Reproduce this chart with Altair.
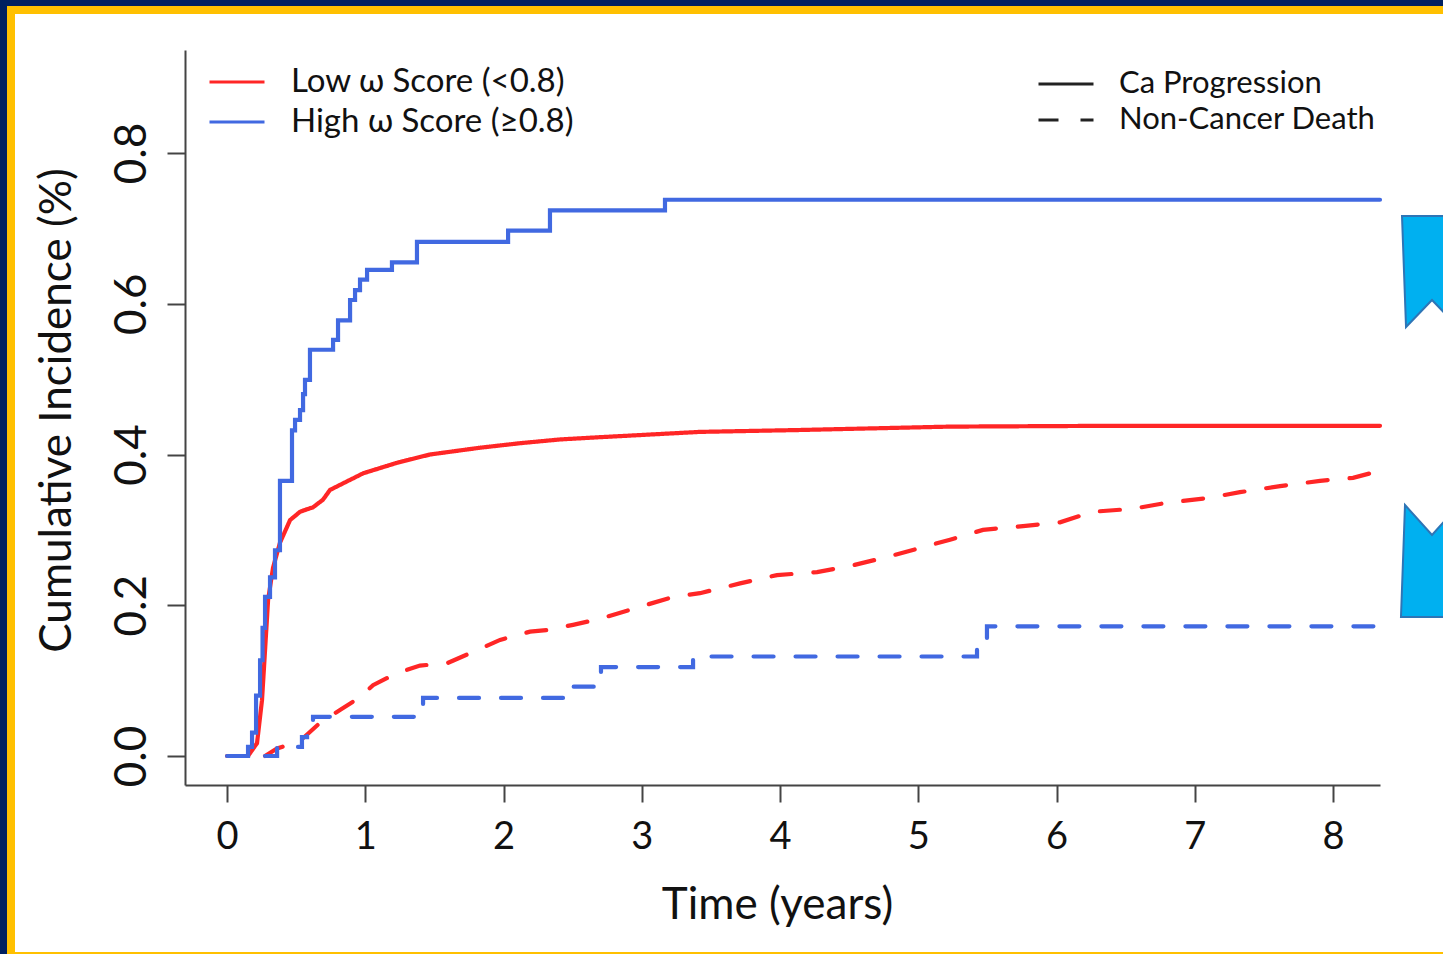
import altair as alt
import pandas as pd

# ---- data (time in years, cumulative incidence) ----
GROUPS = ["Low ω Score (<0.8)", "High ω Score (≥0.8)"]
EVENTS = ["Ca Progression", "Non-Cancer Death"]

low_ca_t = [0.0, 0.152, 0.217, 0.253, 0.275, 0.297, 0.333, 0.383, 0.456, 0.528, 0.622, 0.694,
            0.745, 0.984, 1.23, 1.468, 1.83, 2.12, 2.41, 2.70, 3.42, 4.14, 4.745, 5.23, 6.31, 8.34]
low_ca_v = [0.0, 0.0, 0.017, 0.074, 0.14, 0.207, 0.25, 0.283, 0.313, 0.324, 0.33, 0.34,
            0.353, 0.375, 0.389, 0.40, 0.409, 0.415, 0.42, 0.423, 0.43, 0.4325, 0.435, 0.437, 0.438, 0.438]

low_nc_t = [0.275, 0.362, 0.528, 0.673, 0.817, 0.962, 1.056, 1.23, 1.396, 1.591, 1.779, 1.975,
            2.192, 2.315, 2.503, 2.698, 2.987, 3.226, 3.421, 3.711, 3.978, 4.268, 4.528, 4.774,
            5.013, 5.23, 5.468, 5.758, 6.025, 6.264, 6.553, 6.799, 7.089, 7.327, 7.617, 7.906,
            8.145, 8.268]
low_nc_v = [0.0, 0.01, 0.02, 0.044, 0.061, 0.078, 0.094, 0.11, 0.12, 0.123, 0.138, 0.154,
            0.165, 0.167, 0.174, 0.182, 0.198, 0.211, 0.216, 0.229, 0.24, 0.244, 0.253, 0.264,
            0.276, 0.287, 0.30, 0.305, 0.31, 0.324, 0.328, 0.336, 0.342, 0.35, 0.358, 0.365,
            0.369, 0.375]

high_ca_t = [0.0, 0.152, 0.181, 0.21, 0.239, 0.257, 0.275, 0.311, 0.347, 0.383, 0.47, 0.492,
             0.528, 0.55, 0.564, 0.600, 0.767, 0.803, 0.890, 0.926, 0.962, 1.013, 1.193, 1.374,
             2.033, 2.336, 3.168, 8.34]
high_ca_v = [0.0, 0.012, 0.031, 0.08, 0.127, 0.17, 0.211, 0.237, 0.273, 0.365, 0.432, 0.446,
             0.459, 0.48, 0.499, 0.539, 0.552, 0.578, 0.605, 0.618, 0.632, 0.645, 0.655, 0.682,
             0.697, 0.724, 0.738, 0.738]

high_nc_t = [0.275, 0.362, 0.542, 0.579, 0.622, 1.418, 2.459, 2.705, 3.371, 5.425, 5.497, 8.34]
high_nc_v = [0.0, 0.012, 0.025, 0.03, 0.052, 0.077, 0.092, 0.118, 0.132, 0.154, 0.172, 0.172]

x_ticks = [0, 1, 2, 3, 4, 5, 6, 7, 8]
y_ticks = [0.0, 0.2, 0.4, 0.6, 0.8]


def frame(ts, vs, group, event):
    return pd.DataFrame({"t": ts, "v": vs, "group": group, "event": event})


df_low = pd.concat([frame(low_ca_t, low_ca_v, GROUPS[0], EVENTS[0]),
                    frame(low_nc_t, low_nc_v, GROUPS[0], EVENTS[1])])
df_high = pd.concat([frame(high_ca_t, high_ca_v, GROUPS[1], EVENTS[0]),
                     frame(high_nc_t, high_nc_v, GROUPS[1], EVENTS[1])])

RED = "#FF2626"
BLUE = "#4169E1"
FONT = "Lato"
AXC = "#444444"

x_enc = alt.X(
    "t:Q",
    scale=alt.Scale(domain=[-0.304, 8.34], nice=False, zero=False),
    axis=alt.Axis(values=x_ticks, format="d", grid=False, zindex=1,
                  domainColor=AXC, domainWidth=2, tickColor=AXC, tickWidth=2, tickSize=17,
                  labelFont=FONT, labelFontSize=38, labelColor="#111111", labelPadding=46,
                  labelBaseline="alphabetic", labelFlush=False, labelOverlap=False,
                  title="Time (years)", titleFont=FONT, titleFontSize=44, titleFontWeight="normal",
                  titleColor="#111111", titleBaseline="alphabetic", titleY=133, titleX=592),
)
y_enc = alt.Y(
    "v:Q",
    scale=alt.Scale(domain=[-0.0385, 0.9367], nice=False, zero=False),
    axis=alt.Axis(values=y_ticks, format=".1f", grid=False, zindex=1,
                  domainColor=AXC, domainWidth=2, tickColor=AXC, tickWidth=2, tickSize=18,
                  labelFont=FONT, labelFontSize=44, labelColor="#111111", labelAngle=270,
                  labelAlign="center", labelBaseline="alphabetic", labelPadding=22,
                  labelFlush=False, labelOverlap=False,
                  title="Cumulative Incidence (%)", titleFont=FONT, titleFontSize=44,
                  titleFontWeight="normal", titleColor="#111111", titleAngle=270,
                  titleAlign="center", titleBaseline="alphabetic", titleX=-115, titleY=360),
)
color_enc = alt.Color(
    "group:N",
    scale=alt.Scale(domain=GROUPS, range=[RED, BLUE]),
    legend=alt.Legend(title=None, orient="none", legendX=23, legendY=12, padding=0,
                      symbolType="stroke", symbolSize=3025, symbolStrokeWidth=3,
                      labelFont=FONT, labelFontSize=33, labelColor="#111111", labelOffset=25,
                      labelLimit=600, clipHeight=40, rowPadding=0),
)
dash_enc = alt.StrokeDash(
    "event:N",
    scale=alt.Scale(domain=EVENTS, range=[[1, 0], [20, 22]]),
    legend=alt.Legend(title=None, orient="none", legendX=852, legendY=16, padding=0,
                      symbolType="stroke", symbolSize=3025, symbolStrokeWidth=3,
                      symbolStrokeColor="#222222",
                      labelFont=FONT, labelFontSize=31, labelColor="#111111", labelOffset=24,
                      labelLimit=600, clipHeight=36, rowPadding=0),
)

red_lines = alt.Chart(df_low).mark_line(strokeWidth=4.2, interpolate="linear", strokeCap="round").encode(
    x=x_enc, y=y_enc, color=color_enc, strokeDash=dash_enc)
blue_lines = alt.Chart(df_high).mark_line(strokeWidth=4.2, interpolate="step-after", strokeCap="round").encode(
    x=x_enc, y=y_enc, color=color_enc, strokeDash=dash_enc)

# ---- slide decoration: gold frame, white page, two blue callout shapes ----
one = alt.Data(values=[{}])
OX, OY = 185, 50  # plot origin on the page
gold = alt.Chart(one).mark_rect(color="#FFC000").encode(
    x=alt.value(7 - OX), x2=alt.value(1470 - OX), y=alt.value(6 - OY), y2=alt.value(980 - OY))
white = alt.Chart(one).mark_rect(color="#FFFFFF").encode(
    x=alt.value(15 - OX), x2=alt.value(1470 - OX), y=alt.value(14 - OY), y2=alt.value(952 - OY))

upper_path = "M-0.5,-0.933 L0.5,-0.933 L0.433,0.917 L0,0.467 L-0.433,0.917 Z"
lower_path = "M-0.45,-0.933 L0,-0.433 L0.45,-0.933 L0.517,0.933 L-0.517,0.933 Z"
arrow_up = alt.Chart(one).mark_point(shape=upper_path, filled=True, fill="#00B0F0", stroke="#2E75B6",
                                     strokeWidth=2, opacity=1).encode(
    x=alt.value(1432 - OX), y=alt.value(272 - OY), size=alt.value(14400))
arrow_dn = alt.Chart(one).mark_point(shape=lower_path, filled=True, fill="#00B0F0", stroke="#2E75B6",
                                     strokeWidth=2, opacity=1).encode(
    x=alt.value(1432 - OX), y=alt.value(561 - OY), size=alt.value(14400))

chart = alt.layer(gold, white, arrow_up, arrow_dn, red_lines, blue_lines).properties(
    width=1195, height=735,
    autosize=alt.AutoSizeParams(type="none"),
    padding={"left": OX, "top": OY, "right": 1443 - 1380, "bottom": 954 - 785},
    background="#002060",
).configure_view(stroke=None)

chart.save("out.html", embed_options={"renderer": "svg", "actions": False})
